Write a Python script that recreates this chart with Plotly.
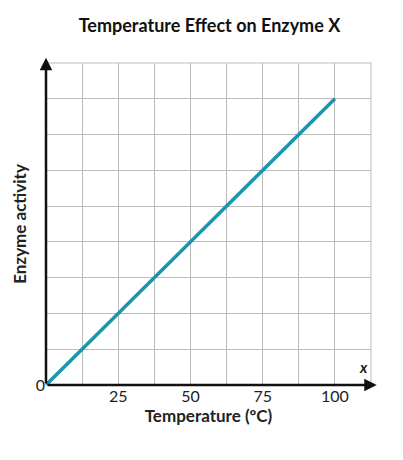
import plotly.graph_objects as go

temps = [0, 100]
activity = [0, 8]
x_ticks = [0, 12.5, 25, 37.5, 50, 62.5, 75, 87.5, 100, 112.5]
x_labels = ["", "", "25", "", "50", "", "75", "", "100", ""]
y_ticks = list(range(10))
y_labels = ["0"] + [""] * 9

fig = go.Figure(go.Scatter(x=temps, y=activity, mode="lines",
                           line=dict(color="#1995ad", width=3.5), hoverinfo="skip"))
fig.update_layout(
    width=403, height=460, margin=dict(l=38, r=40, t=55, b=83),
    plot_bgcolor="white", paper_bgcolor="white", showlegend=False,
    font=dict(family="Lato, Open Sans, sans-serif", color="#222", size=16),
    title=dict(text="<b>Temperature Effect on Enzyme X</b>", x=0.5, xanchor="center",
               y=0.975, yanchor="top", font=dict(size=18, color="#111")),
)
fig.update_xaxes(range=[0, 112.5], tickvals=x_ticks, ticktext=x_labels, showgrid=True,
                 gridcolor="#bbbbbb", gridwidth=1, showline=False, zeroline=False, ticks="",
                 title=dict(text="<b>Temperature (ºC)</b>", standoff=6, font=dict(size=17)))
fig.update_yaxes(range=[0, 9], tickvals=y_ticks, ticktext=y_labels, showgrid=True,
                 gridcolor="#bbbbbb", gridwidth=1, showline=False, zeroline=False, ticks="",
                 title=dict(text="<b>Enzyme activity</b>", standoff=4, font=dict(size=17)))
fig.add_shape(type="rect", xref="paper", yref="paper", x0=0, y0=0, x1=1, y1=1,
              line=dict(color="#bbbbbb", width=1), layer="below")
fig.add_annotation(x=114.5, y=0, ax=0, ay=0, xref="x", yref="y", axref="x", ayref="y",
                   showarrow=True, arrowhead=2, arrowsize=1, arrowwidth=2.5, arrowcolor="#111",
                   text="")
fig.add_annotation(x=0, y=9.15, ax=0, ay=0, xref="x", yref="y", axref="x", ayref="y",
                   showarrow=True, arrowhead=2, arrowsize=1, arrowwidth=2.5, arrowcolor="#111",
                   text="")
fig.add_annotation(x=112, y=0.2, xref="x", yref="y", text="<b><i>x</i></b>", showarrow=False,
                   xanchor="right", yanchor="bottom", font=dict(size=15))
fig.add_annotation(x=2, y=9.25, xref="x", yref="y", text="<b><i>y</i></b>", showarrow=False,
                   xanchor="left", yanchor="middle", font=dict(size=15))
fig.write_html("out.html")
